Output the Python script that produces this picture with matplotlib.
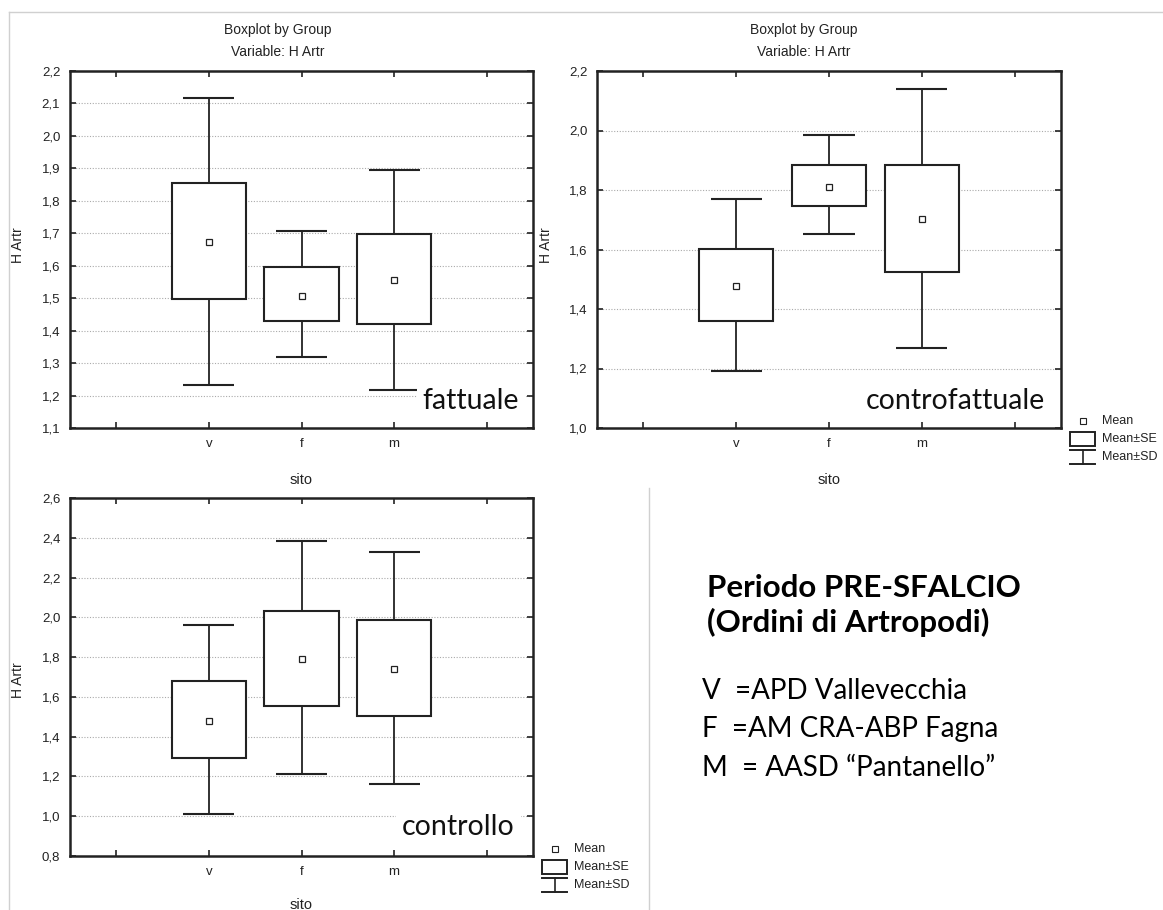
import matplotlib
matplotlib.use('Agg')
import matplotlib.pyplot as plt
from matplotlib.lines import Line2D
from matplotlib.patches import Rectangle

# groups on the x axis
sites = ['v', 'f', 'm']

# fattuale
fatt_mean = [1.674, 1.508, 1.556]
fatt_se_lo = [1.497, 1.430, 1.421]
fatt_se_hi = [1.855, 1.595, 1.697]
fatt_sd_lo = [1.234, 1.318, 1.218]
fatt_sd_hi = [2.116, 1.708, 1.894]

# controfattuale
contf_mean = [1.477, 1.811, 1.703]
contf_se_lo = [1.360, 1.746, 1.526]
contf_se_hi = [1.601, 1.884, 1.884]
contf_sd_lo = [1.192, 1.651, 1.269]
contf_sd_hi = [1.769, 1.986, 2.141]

# controllo
ctrl_mean = [1.481, 1.793, 1.741]
ctrl_se_lo = [1.293, 1.553, 1.506]
ctrl_se_hi = [1.679, 2.033, 1.986]
ctrl_sd_lo = [1.010, 1.213, 1.164]
ctrl_sd_hi = [1.961, 2.385, 2.328]

# y tick values for each panel
fatt_yticks = [1.1, 1.2, 1.3, 1.4, 1.5, 1.6, 1.7, 1.8, 1.9, 2.0, 2.1, 2.2]
contf_yticks = [1.0, 1.2, 1.4, 1.6, 1.8, 2.0, 2.2]
ctrl_yticks = [0.8, 1.0, 1.2, 1.4, 1.6, 1.8, 2.0, 2.2, 2.4, 2.6]

legend_labels = ['Mean', 'Mean±SE', 'Mean±SD']
side_title = ['Periodo PRE-SFALCIO', '(Ordini di Artropodi)']
side_lines = ['V  =APD Vallevecchia', 'F  =AM CRA-ABP Fagna', 'M  = AASD \u201cPantanello\u201d']

NARROW = ['Liberation Sans Narrow', 'Liberation Sans', 'DejaVu Sans']
SLIDE = ['Lato', 'DejaVu Sans']
W, H = 1163, 910
INK = '#222222'


def px(x, y):
    return x / W, 1 - y / H


def box_panel(ax, means, se_lo, se_hi, sd_lo, sd_hi, yticks):
    xs = list(range(1, len(sites) + 1))
    bw, cw = 0.8, 0.55
    for x, a, b, lo, hi in zip(xs, se_lo, se_hi, sd_lo, sd_hi):
        ax.vlines(x, lo, a, color=INK, lw=1.3, zorder=2)
        ax.vlines(x, b, hi, color=INK, lw=1.3, zorder=2)
        ax.hlines([lo, hi], x - cw / 2, x + cw / 2, color=INK, lw=1.5, zorder=2)
        ax.add_patch(Rectangle((x - bw / 2, a), bw, b - a, facecolor='white',
                               edgecolor=INK, lw=1.5, zorder=3))
    ax.plot(xs, means, ls='none', marker='s', ms=4.5, mfc='white', mec=INK,
            mew=0.9, zorder=4)
    ax.set_xlim(-0.5, 4.5)
    ax.set_ylim(yticks[0], yticks[-1])
    ax.set_xticks([0, 1, 2, 3, 4])
    ax.set_xticklabels([''] + sites + [''])
    ax.set_yticks(yticks)
    ax.set_yticklabels([f'{t:.1f}'.replace('.', ',') for t in yticks])
    ax.tick_params(direction='in', top=True, right=True, length=4, width=1.2,
                   labelsize=9.5, pad=7, colors=INK)
    for lab in ax.get_xticklabels() + ax.get_yticklabels():
        lab.set_family(NARROW)
    for t in yticks[1:-1]:
        ax.axhline(t, color='#aaaaaa', lw=0.8, ls=(0, (1, 1.5)), zorder=0)
    for s in ax.spines.values():
        s.set_linewidth(1.8)
        s.set_color(INK)
    ax.set_ylabel('H Artr', family=NARROW, fontsize=10, color=INK)
    ax.set_xlabel('sito', family=NARROW, fontsize=10.5, color=INK)


def draw_legend(fig, x0, y0):
    fx, fy = px(x0 + 12.5, y0)
    fig.add_artist(Line2D([fx], [fy], marker='s', ms=4, mfc='white', mec=INK, mew=0.8,
                          transform=fig.transFigure))
    bx, by = px(x0, y0 + 25)
    fig.add_artist(Rectangle((bx, by), 25 / W, 14 / H, transform=fig.transFigure,
                             facecolor='white', edgecolor=INK, lw=1.4))
    for yy in (y0 + 29, y0 + 43):
        a = px(x0, yy)
        b = px(x0 + 25, yy)
        fig.add_artist(Line2D([a[0], b[0]], [a[1], b[1]], color=INK, lw=1.4,
                              transform=fig.transFigure))
    a = px(x0 + 12.5, y0 + 29)
    b = px(x0 + 12.5, y0 + 43)
    fig.add_artist(Line2D([a[0], b[0]], [a[1], b[1]], color=INK, lw=1.2,
                          transform=fig.transFigure))
    for i, lab in enumerate(legend_labels):
        tx, ty = px(x0 + 32, y0 + 18 * i)
        fig.text(tx, ty, lab, family=NARROW, fontsize=9, va='center', ha='left',
                 color=INK)


fig = plt.figure(figsize=(11.63, 9.10), dpi=100)

ax1 = fig.add_axes([70 / W, 1 - 428 / H, 463 / W, 357 / H])
box_panel(ax1, fatt_mean, fatt_se_lo, fatt_se_hi, fatt_sd_lo, fatt_sd_hi, fatt_yticks)
ax2 = fig.add_axes([597 / W, 1 - 428 / H, 464 / W, 357 / H])
box_panel(ax2, contf_mean, contf_se_lo, contf_se_hi, contf_sd_lo, contf_sd_hi, contf_yticks)
ax3 = fig.add_axes([70 / W, 1 - 856 / H, 463 / W, 358 / H])
box_panel(ax3, ctrl_mean, ctrl_se_lo, ctrl_se_hi, ctrl_sd_lo, ctrl_sd_hi, ctrl_yticks)

ax1.yaxis.set_label_coords(-0.097, 0.513)
ax2.yaxis.set_label_coords(-0.095, 0.513)
ax3.yaxis.set_label_coords(-0.097, 0.49)
ax1.xaxis.set_label_coords(0.5, -0.125)
ax2.xaxis.set_label_coords(0.5, -0.125)
ax3.xaxis.set_label_coords(0.5, -0.118)

# big labels inside the panels
for ax, txt, xr, yb in [(ax1, 'fattuale', 0.97, 0.053),
                        (ax2, 'controfattuale', 0.966, 0.053),
                        (ax3, 'controllo', 0.961, 0.059)]:
    ax.text(xr, yb, txt, transform=ax.transAxes, ha='right', va='baseline',
            family=SLIDE, fontsize=20.5, color='#111111', zorder=5,
            bbox=dict(facecolor='white', edgecolor='none', pad=4))

# titles over the top panels
for cx in (277.5, 804):
    fig.text(*px(cx, 30), 'Boxplot by Group', family=NARROW, fontsize=10,
             ha='center', va='center', color=INK)
    fig.text(*px(cx, 52), 'Variable: H Artr', family=NARROW, fontsize=10,
             ha='center', va='center', color=INK)

draw_legend(fig, 1070, 421)
draw_legend(fig, 542, 849)

# text block on the right
for i, t in enumerate(side_title):
    fig.text(*px(707, 597 + 35 * i), t, family=SLIDE, fontsize=22.5, weight='bold',
             ha='left', va='baseline', color='black')
for i, t in enumerate(side_lines):
    fig.text(*px(702, 699 + 38.5 * i), t, family=SLIDE, fontsize=20,
             ha='left', va='baseline', color='black')

# faint frame lines of the pasted pictures
grey = '#d0d0d0'
for (xa, ya), (xb, yb) in [((9, 11.5), (W, 11.5)), ((9, 11.5), (9, H)),
                           ((649, 488), (649, H))]:
    a = px(xa, ya)
    b = px(xb, yb)
    fig.add_artist(Line2D([a[0], b[0]], [a[1], b[1]], color=grey, lw=1.0,
                          transform=fig.transFigure))

fig.savefig('out.png', dpi=100, facecolor='white')
